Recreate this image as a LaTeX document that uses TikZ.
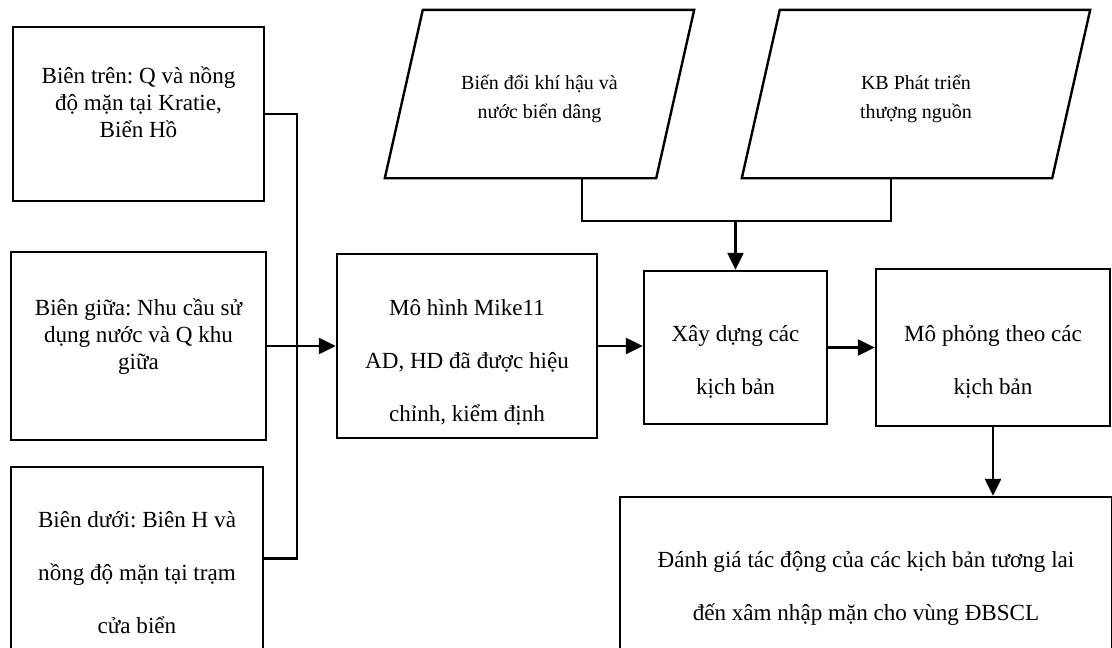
\documentclass[tikz,border=0pt]{standalone}
\usepackage{fontspec}
\setmainfont{Liberation Serif}
\frenchspacing
\usetikzlibrary{arrows.meta}
\tikzset{every picture/.style={line width=2.4pt}}
\tikzset{
  box/.style={draw, rectangle, align=center, font=\fontsize{23.1}{27}\selectfont, text height=52pt, text depth=5pt},
  wide/.style={draw, rectangle, align=center, font=\fontsize{23.1}{53}\selectfont, text height=99pt, text depth=5pt},
  para/.style={rectangle, align=center, font=\fontsize{20}{29}\selectfont, minimum height=166pt, text height=53pt, text depth=5pt},
  arr/.style={-{Triangle[length=17pt,width=16pt]}}
}

\begin{document}
\begin{tikzpicture}[x=1pt,y=-1pt]
  \useasboundingbox (0,0) rectangle (1112,648);
  \node[box, minimum width=251pt, minimum height=174pt] (top) at (138.5,114) {Biên trên: Q và nồng\\độ mặn tại Kratie,\\Biển Hồ};
  \node[box, minimum width=255pt, minimum height=188pt] (mid) at (138.5,346) {Biên giữa: Nhu cầu sử\\dụng nước và Q khu\\giữa};
  \node[wide, text height=155pt, minimum width=252pt, minimum height=183pt] (bot) at (137,558.5) {Biên dưới: Biên H và\\nồng độ mặn tại trạm\\cửa biển};
  \node[wide, text height=155pt, minimum width=260pt, minimum height=184pt] (mike) at (467,346) {Mô hình Mike11\\AD, HD đã được hiệu\\chỉnh, kiểm định};
  \node[wide, minimum width=183pt, minimum height=153pt] (xay) at (735.5,347.5) {Xây dựng các\\kịch bản};
  \node[wide, minimum width=234pt, minimum height=157pt] (mo) at (993,347.5) {Mô phỏng theo các\\kịch bản};
  \node[wide, minimum width=492pt, minimum height=153pt] (danh) at (866,573.5) {Đánh giá tác động của các kịch bản tương lai\\đến xâm nhập mặn cho vùng ĐBSCL};
  \node[para, minimum width=269pt] (cc) at (539.5,94) {Biến đổi khí hậu và\\nước biển dâng};
  \node[para, minimum width=308pt] (kb) at (916,94) {KB Phát triển\\thượng nguồn};
  % slanted input boxes
  \foreach \n in {cc,kb}
    \draw ([xshift=-19pt]\n.south west) -- ([xshift=19pt]\n.north west) -- ([xshift=19pt]\n.north east) -- ([xshift=-19pt]\n.south east) -- cycle;

  \coordinate (bus) at (297,346);
  \coordinate (join) at (735.5,221);
  \draw (top.east) -| (bus) |- (bot.east);
  \draw[arr] (mid.east) -- (mike.west);
  \draw[arr] (mike.east) -- (mike.east -| xay.west);
  \draw[arr] (xay.east) -- (mo.west);
  \draw[arr] (mo.south) -- (mo.south |- danh.north);
  \draw ([xshift=42.5pt]cc.south) |- (join) -| ([xshift=-25pt]kb.south);
  \draw[arr] (join) -- (xay.north);
\end{tikzpicture}
\end{document}
